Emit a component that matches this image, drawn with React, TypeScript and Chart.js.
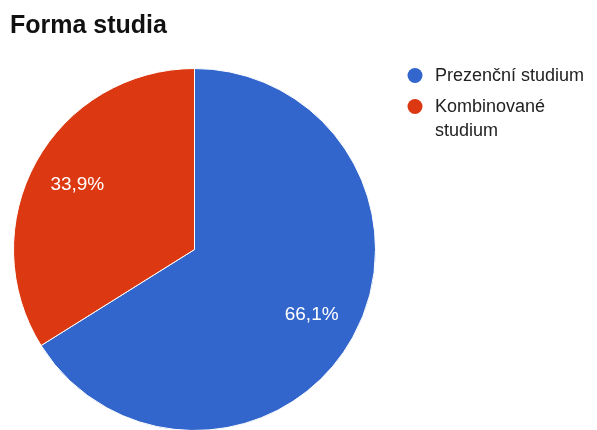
import React, { useEffect, useRef } from "react";
import { Chart, registerables } from "chart.js";

Chart.register(...registerables);

const TITLE = "Forma studia";
const categories = ["Prezenční studium", "Kombinované studium"];
const shares = [66.1, 33.9];
const colors = ["#3366CC", "#DC3912"];

const FONT = '"Liberation Sans", Arial, sans-serif';

function wrapText(ctx: CanvasRenderingContext2D, text: string, maxW: number): string[] {
  const words = text.split(" ");
  const lines: string[] = [];
  let cur = "";
  for (const w of words) {
    const test = cur ? cur + " " + w : w;
    if (ctx.measureText(test).width > maxW && cur) {
      lines.push(cur);
      cur = w;
    } else {
      cur = test;
    }
  }
  if (cur) lines.push(cur);
  return lines;
}

export default function App() {
  const ref = useRef<HTMLCanvasElement>(null);

  useEffect(() => {
    const canvas = ref.current!;
    const overlay = {
      id: "overlay",
      afterDatasetsDraw(chart: any) {
        const ctx: CanvasRenderingContext2D = chart.ctx;
        const meta = chart.getDatasetMeta(0);
        ctx.save();
        ctx.fillStyle = "#ffffff";
        ctx.font = `19px ${FONT}`;
        ctx.textAlign = "center";
        ctx.textBaseline = "middle";
        meta.data.forEach((arc: any, i: number) => {
          const p = arc.getProps(["x", "y", "startAngle", "endAngle", "outerRadius"], true);
          const mid = (p.startAngle + p.endAngle) / 2;
          const r = p.outerRadius * 0.74;
          const txt = shares[i].toFixed(1).replace(".", ",") + "%";
          ctx.fillText(txt, p.x + Math.cos(mid) * r, p.y + Math.sin(mid) * r);
        });
        ctx.restore();
      },
      afterDraw(chart: any) {
        const ctx: CanvasRenderingContext2D = chart.ctx;
        ctx.save();
        // title
        ctx.fillStyle = "#111111";
        ctx.font = `bold 25px ${FONT}`;
        ctx.textAlign = "left";
        ctx.textBaseline = "alphabetic";
        ctx.fillText(TITLE, 10, 33);
        // legend
        ctx.font = `18px ${FONT}`;
        let y = 81;
        categories.forEach((label, i) => {
          ctx.fillStyle = colors[i];
          ctx.beginPath();
          ctx.arc(415, y - 5.5, 7.5, 0, Math.PI * 2);
          ctx.fill();
          ctx.fillStyle = "#222222";
          const lines = wrapText(ctx, label, 155);
          lines.forEach((ln, j) => {
            ctx.fillText(ln, 435, y + j * 24);
          });
          y += 31 + (lines.length - 1) * 24;
        });
        ctx.restore();
      },
    };

    const chart = new Chart(canvas, {
      type: "pie",
      data: {
        labels: categories,
        datasets: [
          {
            data: shares,
            backgroundColor: colors,
            borderColor: "#ffffff",
            borderWidth: 1,
          },
        ],
      },
      options: {
        responsive: false,
        animation: false,
        devicePixelRatio: 1,
        layout: { padding: { left: 13, right: 221, top: 68, bottom: 9 } },
        plugins: {
          legend: { display: false },
          title: { display: false },
          tooltip: { enabled: false },
        },
      },
      plugins: [overlay],
    });
    return () => chart.destroy();
  }, []);

  return (
    <div
      style={{
        position: "fixed",
        left: 0,
        top: 0,
        width: 597,
        height: 430,
        overflow: "hidden",
        background: "#ffffff",
      }}
    >
      <canvas ref={ref} width={597} height={440} style={{ display: "block" }} />
    </div>
  );
}
